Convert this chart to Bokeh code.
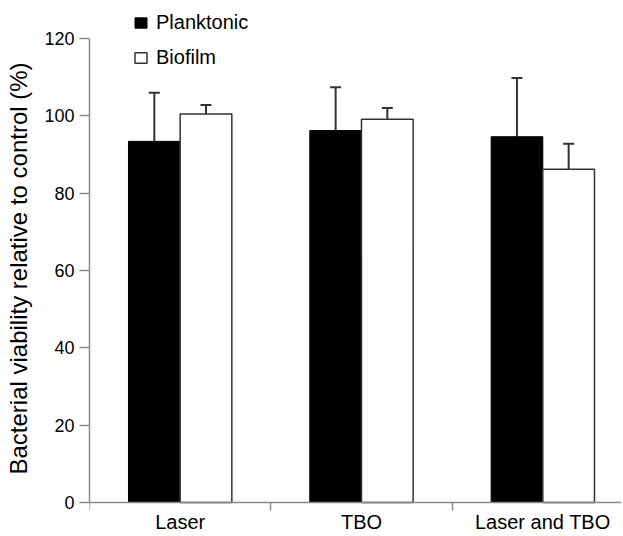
from bokeh.plotting import figure
from bokeh.models import (ColumnDataSource, FixedTicker, Whisker, TeeHead, Legend, LegendItem, Range1d)
from bokeh.transform import dodge
from bokeh.embed import file_html
from bokeh.resources import INLINE

categories = ["Laser", "TBO", "Laser and TBO"]
planktonic = [93.4, 96.2, 94.6]
planktonic_err = [12.6, 11.2, 15.2]
biofilm = [100.5, 99.1, 86.2]
biofilm_err = [2.3, 2.9, 6.6]
y_ticks = [0, 20, 40, 60, 80, 100, 120]
y_title = "Bacterial viability relative to control (%)"

centers = [i + 0.5 for i in range(len(categories))]
src = ColumnDataSource(dict(
    x=centers,
    plank=planktonic,
    plank_up=[v + e for v, e in zip(planktonic, planktonic_err)],
    bio=biofilm,
    bio_up=[v + e for v, e in zip(biofilm, biofilm_err)],
))

FONT = "Liberation Sans"
GREY = "#8a8a8a"
W = 0.285

p = figure(width=623, height=536, output_backend="svg", toolbar_location=None,
           x_range=Range1d(0, 2.934), y_range=Range1d(-8.79, 129.83),
           min_border_left=89, min_border_right=2, min_border_top=0, min_border_bottom=0)
p.outline_line_color = None
p.xgrid.visible = False
p.ygrid.visible = False
p.background_fill_color = "white"

r1 = p.vbar(x=dodge("x", -W / 2), top="plank", width=W, source=src,
            fill_color="black", line_color="black", line_width=1)
r2 = p.vbar(x=dodge("x", W / 2), top="bio", width=W, source=src,
            fill_color="white", line_color="#333333", line_width=1.5)

for base_x, low, up in [(-W / 2, "plank", "plank_up"), (W / 2, "bio", "bio_up")]:
    wk = Whisker(source=src, base=dodge("x", base_x), lower=low, upper=up,
                 dimension="height", line_color="#333333", line_width=2,
                 upper_head=TeeHead(size=11, line_color="#333333", line_width=2),
                 lower_head=None)
    p.add_layout(wk)

# y axis
yax = p.yaxis[0]
yax.bounds = (0, 120)
yax.ticker = FixedTicker(ticks=y_ticks)
yax.axis_line_color = GREY
yax.axis_line_width = 1.5
yax.major_tick_line_color = GREY
yax.major_tick_line_width = 1.5
yax.major_tick_out = 10
yax.major_tick_in = 0
yax.minor_tick_line_color = None
yax.major_label_text_font = FONT
yax.major_label_text_font_size = "18px"
yax.major_label_text_color = "black"
yax.major_label_standoff = 5
yax.axis_label = y_title
yax.axis_label_text_font = FONT
yax.axis_label_text_font_size = "24px"
yax.axis_label_text_font_style = "normal"
yax.axis_label_text_color = "black"
yax.axis_label_standoff = 9

# x axis, pinned at y = 0
xax = p.xaxis[0]
xax.fixed_location = 0
xax.ticker = FixedTicker(ticks=centers, minor_ticks=[0, 1, 2, 3])
xax.major_label_overrides = {c: n for c, n in zip(centers, categories)}
xax.axis_line_color = GREY
xax.axis_line_width = 1.5
xax.major_tick_line_color = None
xax.major_tick_out = 8
xax.major_tick_in = 0
xax.minor_tick_line_color = GREY
xax.minor_tick_line_width = 1.5
xax.minor_tick_out = 8
xax.minor_tick_in = 0
xax.major_label_text_font = FONT
xax.major_label_text_font_size = "20px"
xax.major_label_text_color = "black"
xax.major_label_standoff = 0

legend = Legend(items=[LegendItem(label="Planktonic", renderers=[r1]),
                       LegendItem(label="Biofilm", renderers=[r2])],
                location=(44, 467), border_line_color=None, background_fill_alpha=0,
                label_text_font=FONT, label_text_font_size="20px", label_text_color="black",
                glyph_width=15, glyph_height=13, label_height=20,
                spacing=12, padding=2, margin=0, label_standoff=8)
p.add_layout(legend)

open("out.html", "w").write(file_html(p, INLINE))
